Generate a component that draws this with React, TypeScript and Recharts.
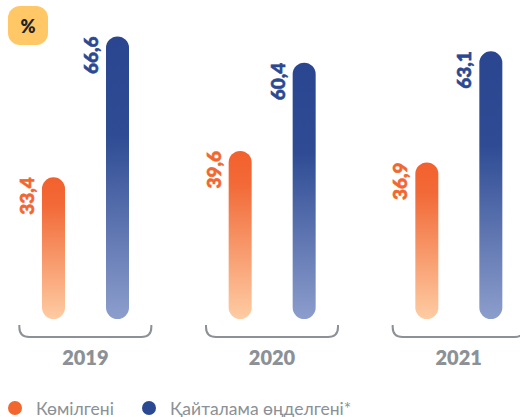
import * as React from 'react';
import { Bar, BarChart, LabelList, XAxis, YAxis } from 'recharts';

const years = ['2019', '2020', '2021'];
const reduced = [33.4, 39.6, 36.9];
const reprocessed = [66.6, 60.4, 63.1];
const seriesNames = ['Көмілгені', 'Қайталама өңделгені*'];

const data = years.map((year, i) => ({ year, reduced: reduced[i], reprocessed: reprocessed[i] }));

const font = "Lato, 'Noto Sans', sans-serif";
const orange = '#F2662F';
const blue = '#2B4892';
const grey = '#8B9196';

function YearTick(props: any) {
  const { x, y, payload } = props;
  const half = 66;
  const top = y + 6;
  const bottom = y + 18;
  const r = 10;
  const d = `M${x - half},${top} L${x - half},${bottom - r} Q${x - half},${bottom} ${x - half + r},${bottom} L${x + half - r},${bottom} Q${x + half},${bottom} ${x + half},${bottom - r} L${x + half},${top}`;
  return (
    <g>
      <path d={d} fill="none" stroke={grey} strokeWidth={2} />
      <text x={x} y={y + 46} textAnchor="middle" fill={grey} fontSize={20} fontWeight={800} fontFamily={font}>
        {payload.value}
      </text>
    </g>
  );
}

function makeLabel(color: string) {
  return (props: any) => {
    const { x, y, value } = props;
    const lx = x - 8;
    return (
      <text
        x={lx}
        y={y}
        transform={`rotate(-90 ${lx} ${y})`}
        textAnchor="end"
        fill={color}
        stroke={color}
        strokeWidth={0.6}
        fontSize={19}
        fontWeight={900}
        fontFamily={font}
      >
        {String(value).replace('.', ',')}
      </text>
    );
  };
}

export default function App() {
  return (
    <div style={{ position: 'fixed', left: 0, top: 0, width: 520, height: 417, overflow: 'hidden', background: '#fff' }}>
      <div style={{ position: 'absolute', left: -8, top: 0 }}>
        <BarChart
          width={560}
          height={417}
          data={data}
          margin={{ top: 22, right: 0, left: 0, bottom: 38 }}
          barSize={23}
          barGap={41}
        >
          <defs>
            <linearGradient id="gOrange" x1="0" y1="0" x2="0" y2="1">
              <stop offset="0%" stopColor="#F2612D" />
              <stop offset="20%" stopColor="#F26A38" />
              <stop offset="100%" stopColor="#FECCA3" />
            </linearGradient>
            <linearGradient id="gBlue" x1="0" y1="0" x2="0" y2="1">
              <stop offset="0%" stopColor="#2A4690" />
              <stop offset="35%" stopColor="#2E4B94" />
              <stop offset="100%" stopColor="#8C9ECC" />
            </linearGradient>
          </defs>
          <XAxis
            dataKey="year"
            axisLine={false}
            tickLine={false}
            tickSize={0}
            tickMargin={0}
            height={60}
            interval={0}
            tick={<YearTick />}
          />
          <YAxis hide domain={[0, 70]} />
          <Bar dataKey="reduced" name={seriesNames[0]} fill="url(#gOrange)" radius={11.5} isAnimationActive={false}>
            <LabelList dataKey="reduced" content={makeLabel(orange)} />
          </Bar>
          <Bar dataKey="reprocessed" name={seriesNames[1]} fill="url(#gBlue)" radius={11.5} isAnimationActive={false}>
            <LabelList dataKey="reprocessed" content={makeLabel(blue)} />
          </Bar>
        </BarChart>
      </div>
      <div
        style={{
          position: 'absolute',
          left: 8,
          top: 6,
          width: 40,
          height: 39,
          borderRadius: 12,
          background: '#FFC766',
          display: 'flex',
          alignItems: 'center',
          justifyContent: 'center',
          fontFamily: font,
          fontWeight: 800,
          fontSize: 18,
          color: '#222',
        }}
      >
        %
      </div>
      {seriesNames.map((name, i) => (
        <div
          key={name}
          style={{
            position: 'absolute',
            left: i === 0 ? 8 : 142,
            top: 398,
            height: 20,
            display: 'flex',
            alignItems: 'center',
            fontFamily: font,
            fontSize: 17.5,
            color: grey,
            whiteSpace: 'nowrap',
          }}
        >
          <span style={{ width: 14, height: 14, borderRadius: 7, background: i === 0 ? orange : blue, marginRight: 14 }} />
          {name}
        </div>
      ))}
    </div>
  );
}
